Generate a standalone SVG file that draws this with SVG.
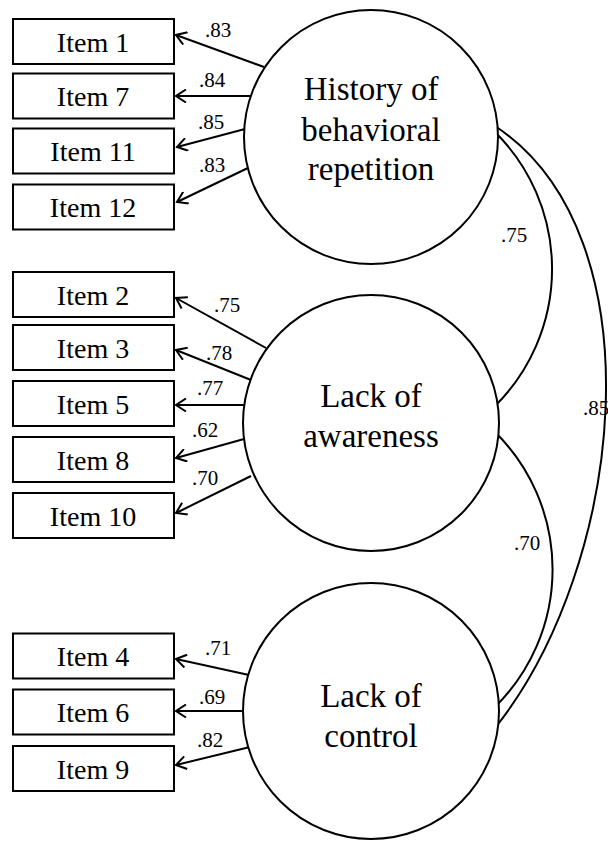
<svg xmlns="http://www.w3.org/2000/svg" width="608" height="842" viewBox="0 0 608 842">
<style>
.box{fill:#fff;stroke:#000;stroke-width:2}
.lat{fill:#fff;stroke:#000;stroke-width:2}
text{font-family:'Liberation Serif','Times New Roman',Tinos,'DejaVu Serif',serif;fill:#000;text-anchor:middle}
.it{font-size:28px}
.lt{font-size:33px}
.lb{font-size:21px}
.ar{stroke:#000;stroke-width:2;fill:none;marker-end:url(#ah)}
.cv{stroke:#000;stroke-width:2;fill:none}
</style>
<defs>
<marker id="ah" markerUnits="userSpaceOnUse" viewBox="-12 -7 14 14" refX="0" refY="0" markerWidth="14" markerHeight="14" orient="auto">
<path d="M-10,-6.5 L0,0 L-10,6.5" fill="none" stroke="#000" stroke-width="2"/>
</marker>
</defs>
<g id="item1"><rect class="box" x="13" y="19" width="161" height="45"/><text class="it" x="93" y="52">Item 1</text></g>
<g id="item7"><rect class="box" x="13" y="73.5" width="161" height="45"/><text class="it" x="93" y="106">Item 7</text></g>
<g id="item11"><rect class="box" x="13" y="128.5" width="161" height="45"/><text class="it" x="93" y="161">Item 11</text></g>
<g id="item12"><rect class="box" x="13" y="184.5" width="161" height="45"/><text class="it" x="93" y="217">Item 12</text></g>
<g id="item2"><rect class="box" x="13" y="272" width="161" height="45"/><text class="it" x="93" y="305">Item 2</text></g>
<g id="item3"><rect class="box" x="13" y="325" width="161" height="45"/><text class="it" x="93" y="358">Item 3</text></g>
<g id="item5"><rect class="box" x="13" y="381" width="161" height="45"/><text class="it" x="93" y="414">Item 5</text></g>
<g id="item8"><rect class="box" x="13" y="437" width="161" height="45"/><text class="it" x="93" y="470">Item 8</text></g>
<g id="item10"><rect class="box" x="13" y="493" width="161" height="45"/><text class="it" x="93" y="526">Item 10</text></g>
<g id="item4"><rect class="box" x="13" y="633.5" width="161" height="45"/><text class="it" x="93" y="666">Item 4</text></g>
<g id="item6"><rect class="box" x="13" y="689.5" width="161" height="45"/><text class="it" x="93" y="722">Item 6</text></g>
<g id="item9"><rect class="box" x="13" y="746" width="161" height="45"/><text class="it" x="93" y="779">Item 9</text></g>
<g id="connectors">
<line class="ar" x1="264" y1="67" x2="176" y2="35"/>
<line class="ar" x1="251" y1="96" x2="176" y2="96"/>
<line class="ar" x1="245" y1="129" x2="177" y2="147"/>
<line class="ar" x1="250" y1="167" x2="177" y2="202"/>
<line class="ar" x1="266" y1="348" x2="176" y2="298"/>
<line class="ar" x1="251" y1="380" x2="176" y2="350"/>
<line class="ar" x1="244" y1="405" x2="176" y2="405"/>
<line class="ar" x1="244" y1="439" x2="176" y2="458"/>
<line class="ar" x1="251" y1="476" x2="176" y2="513"/>
<line class="ar" x1="249" y1="675" x2="176" y2="659"/>
<line class="ar" x1="243" y1="711" x2="176" y2="711"/>
<line class="ar" x1="250" y1="747" x2="176" y2="765"/>
<path class="cv" d="M495,132 A193,193 0 0 1 495,406"/>
<path class="cv" d="M495,432 A193,193 0 0 1 495,707"/>
<path class="cv" d="M495,126 C660,235 625,565 495,728"/>
<text class="lb" x="218" y="37">.83</text>
<text class="lb" x="212" y="87">.84</text>
<text class="lb" x="211" y="129">.85</text>
<text class="lb" x="212" y="172">.83</text>
<text class="lb" x="227" y="312">.75</text>
<text class="lb" x="219" y="360">.78</text>
<text class="lb" x="210" y="395">.77</text>
<text class="lb" x="205" y="437">.62</text>
<text class="lb" x="205" y="485">.70</text>
<text class="lb" x="218" y="655">.71</text>
<text class="lb" x="212" y="704">.69</text>
<text class="lb" x="210" y="747">.82</text>
<text class="lb" x="514" y="242">.75</text>
<text class="lb" x="527" y="550">.70</text>
<text class="lb" x="583" y="415" style="text-anchor:start">.85</text>
</g>
<g id="history"><circle class="lat" cx="371" cy="137" r="127"/><text class="lt" x="371" y="100">History of</text><text class="lt" x="371" y="141">behavioral</text><text class="lt" x="371" y="180">repetition</text></g>
<g id="awareness"><circle class="lat" cx="371" cy="423" r="128"/><text class="lt" x="371" y="407">Lack of</text><text class="lt" x="371" y="447">awareness</text></g>
<g id="control"><circle class="lat" cx="371" cy="711" r="128"/><text class="lt" x="371" y="707">Lack of</text><text class="lt" x="371" y="747">control</text></g>
</svg>
